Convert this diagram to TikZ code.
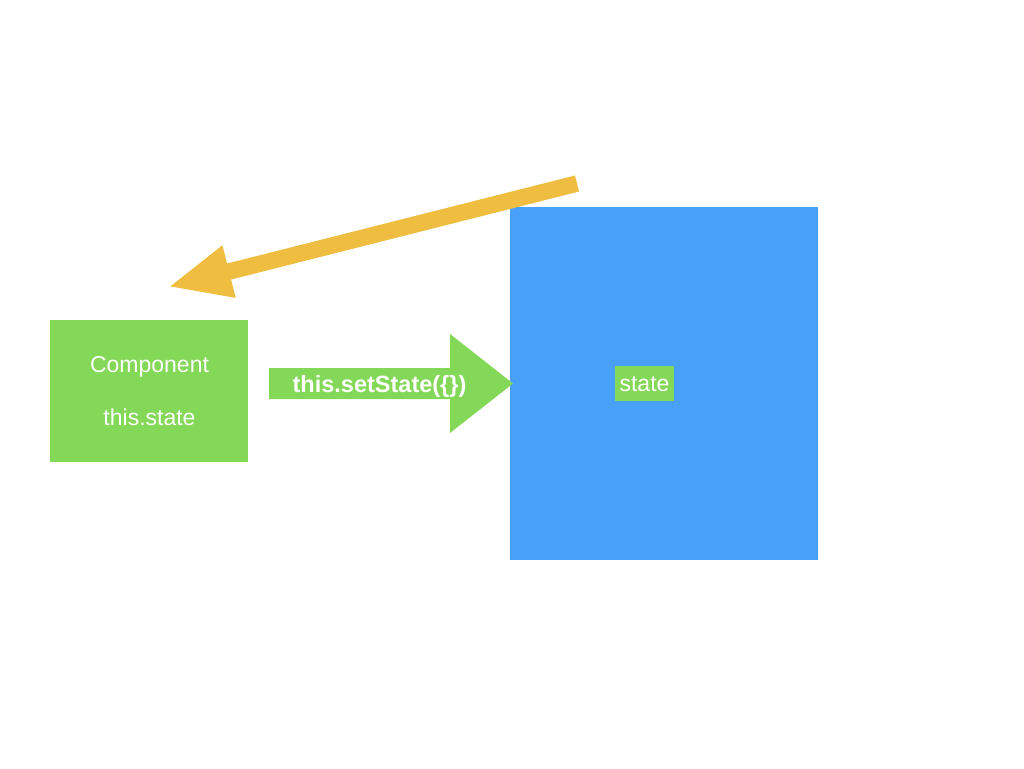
\documentclass[tikz,border=0pt]{standalone}
\usepackage{fontspec}
\setmainfont{Liberation Sans}
\usetikzlibrary{arrows.meta}
\definecolor{kgreen}{RGB}{132,216,88}
\definecolor{kblue}{RGB}{72,160,248}
\definecolor{kyellow}{RGB}{239,190,64}
\tikzset{
  lbl/.style={text=white, font=\fontsize{23}{25}\selectfont, inner sep=0pt, anchor=base},
  boldlbl/.style={text=white, font=\fontsize{23.5}{25}\selectfont\bfseries, inner sep=0pt, anchor=base},
  greenbox/.style={fill=kgreen, draw=none},
  bluebox/.style={fill=kblue, draw=none},
  yarrow/.style={draw=kyellow, line width=16.5pt, -{Triangle[length=63pt,width=49pt]}}
}
\begin{document}
\begin{tikzpicture}[x=1pt,y=-1pt]
\useasboundingbox (0,0) rectangle (1024,768);
% blue store
\path[bluebox] (510,207) rectangle (818,560);
\node[fill=kgreen, minimum width=59pt, minimum height=35pt, inner sep=0pt] (statebox) at (644.5,383.5) {};
\node[lbl] (statelbl) at (644.5,391) {state};
% component box
\path[greenbox] (50,320) rectangle (248,462);
\node[lbl] (complbl) at (149.5,372) {Component};
\node[lbl] (thisstate) at (149.5,425) {this.state};
% green block arrow
\coordinate (gs) at (269,383.5);
\coordinate (gt) at (513,383.5);
\fill[kgreen] (269,368) -- (450,368) -- (450,334) -- (gt) -- (450,433) -- (450,399) -- (269,399) -- cycle;
\node[boldlbl] (setstate) at (379.5,392) {this.setState(\{\})};
% yellow arrow
\coordinate (ys) at (577,183.5);
\coordinate (ye) at (168,287);
\draw[yarrow] (ys) -- (ye);
\end{tikzpicture}
\end{document}
